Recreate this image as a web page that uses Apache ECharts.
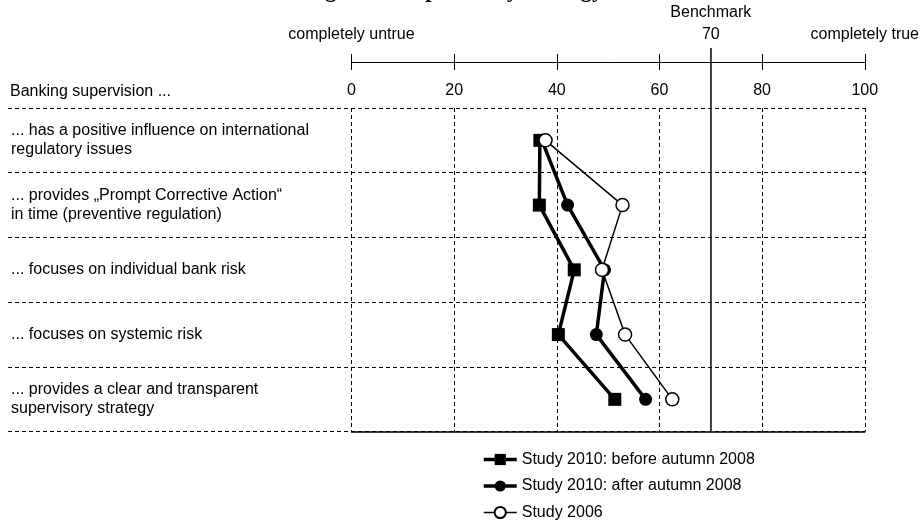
<!DOCTYPE html>
<html>
<head>
<meta charset="utf-8">
<script src="https://cdn.jsdelivr.net/npm/echarts@6/dist/echarts.min.js"></script>
<style>
html,body{margin:0;padding:0;background:#fff;}
#chart{width:922px;height:522px;}
</style>
</head>
<body>
<div id="chart"></div>
<script>
// ---- data ----
const headerLabel = 'Banking supervision ...';
const categories = [
  '... has a positive influence on international\nregulatory issues',
  '... provides \u201EPrompt Corrective Action\u201C\nin time (preventive regulation)',
  '... focuses on individual bank risk',
  '... focuses on systemic risk',
  '... provides a clear and transparent\nsupervisory strategy'
];
const seriesNames = ['Study 2010: before autumn 2008', 'Study 2010: after autumn 2008', 'Study 2006'];
const before2010 = [36.7, 36.6, 43.4, 40.3, 51.3];
const after2010  = [37.1, 42.1, 49.3, 47.7, 57.3];
const study2006  = [37.8, 52.8, 48.8, 53.3, 62.5];
const benchmark = 70;
const scaleTicks = [0, 20, 40, 60, 80, 100];
const scaleEndLabels = {0: 'completely untrue', 100: 'completely true'};
const titleText = 'Rating of the supervisory strategy';

// ---- chart ----
const font = 'Liberation Sans';
const chart = echarts.init(document.getElementById('chart'), null, {renderer: 'canvas'});
const dashed = {color: '#000', width: 1, type: [4, 3]};
const topLabels = Object.assign({}, scaleEndLabels);
topLabels[benchmark] = 'Benchmark\n' + benchmark;
const lineWidths = [3.5, 3.5, 1.5];

const option = {
  animation: false,
  backgroundColor: '#fff',
  textStyle: {fontFamily: font},
  graphic: [
    {type: 'text', left: 10, top: 84, style: {text: headerLabel, font: '16px ' + font, fill: '#000'}},
    {type: 'text', x: 270, y: -9, style: {text: titleText, font: 'bold 23px "Liberation Serif"', fill: '#000', verticalAlign: 'middle'}}
  ],
  grid: [
    {left: 8, right: 57, top: 108, bottom: 90.3},
    {left: 351.5, right: 57, top: 108, bottom: 90.3},
    {left: 351.5, right: 57, top: 48, bottom: 90.3}
  ],
  xAxis: [
    {gridIndex: 0, type: 'value', min: 0, max: 1, show: false},
    {gridIndex: 1, type: 'value', position: 'top', offset: 46, min: scaleTicks[0], max: scaleTicks[scaleTicks.length - 1], interval: 20,
      axisLine: {show: true, lineStyle: {color: '#000', width: 1}},
      axisTick: {show: true, length: 8, lineStyle: {color: '#000', width: 1}},
      axisLabel: {show: false},
      splitLine: {show: true, showMinLine: true, showMaxLine: true, lineStyle: dashed}},
    {gridIndex: 1, type: 'value', position: 'top', offset: 46, min: scaleTicks[0], max: scaleTicks[scaleTicks.length - 1], interval: 20,
      axisLine: {show: false},
      axisTick: {show: true, inside: true, length: 8, lineStyle: {color: '#000', width: 1}},
      axisLabel: {show: true, inside: true, margin: 21, color: '#000', fontSize: 16, fontFamily: font,
        formatter: v => scaleTicks.includes(v) ? String(v) : ''},
      splitLine: {show: false}},
    {gridIndex: 1, type: 'value', position: 'top', offset: 46, min: 0, max: 100, interval: 10,
      axisLine: {show: false}, axisTick: {show: false}, splitLine: {show: false},
      axisLabel: {show: true, margin: 16, color: '#000', fontSize: 16, fontFamily: font, lineHeight: 22,
        showMinLabel: true, showMaxLabel: true,
        formatter: v => topLabels[v] || ''}},
    {gridIndex: 1, type: 'value', position: 'bottom', min: 0, max: 100,
      axisLine: {show: true, lineStyle: {color: '#000', width: 1.5}},
      axisTick: {show: false}, axisLabel: {show: false}, splitLine: {show: false}},
    {gridIndex: 2, type: 'value', min: 0, max: 100, show: false}
  ],
  yAxis: [
    {gridIndex: 0, type: 'category', inverse: true, data: categories,
      axisLine: {show: false}, axisTick: {show: false},
      axisLabel: {show: true, inside: true, margin: 3, color: '#000', fontSize: 16, fontFamily: font, lineHeight: 19},
      splitLine: {show: true, lineStyle: dashed}},
    {gridIndex: 1, type: 'category', inverse: true, data: categories, show: false},
    {gridIndex: 2, type: 'value', min: 0, max: 1, show: false}
  ],
  legend: {
    data: seriesNames.map((n, i) => ({name: n, lineStyle: {width: lineWidths[i]}})),
    orient: 'vertical', left: 482, top: 450, padding: 0,
    itemWidth: 33, itemHeight: 14, itemGap: 7.5,
    textStyle: {color: '#000', fontSize: 16, fontFamily: font, lineHeight: 19}
  },
  series: [
    {name: seriesNames[0], type: 'line', xAxisIndex: 2, yAxisIndex: 1,
      data: before2010.map((v, i) => [v, i]),
      symbol: 'rect', symbolSize: 13,
      lineStyle: {color: '#000', width: lineWidths[0]}, itemStyle: {color: '#000'}, z: 3},
    {name: seriesNames[1], type: 'line', xAxisIndex: 2, yAxisIndex: 1,
      data: after2010.map((v, i) => [v, i]),
      symbol: 'circle', symbolSize: 13,
      lineStyle: {color: '#000', width: lineWidths[1]}, itemStyle: {color: '#000'}, z: 4},
    {name: seriesNames[2], type: 'line', xAxisIndex: 2, yAxisIndex: 1,
      data: study2006.map((v, i) => [v, i]),
      symbol: 'circle', symbolSize: 13,
      lineStyle: {color: '#000', width: lineWidths[2]}, itemStyle: {color: '#fff', borderColor: '#000', borderWidth: 1.5}, z: 5},
    {name: 'Benchmark', type: 'line', xAxisIndex: 5, yAxisIndex: 2,
      data: [[benchmark, 0], [benchmark, 1]], symbol: 'none', silent: true,
      lineStyle: {color: '#000', width: 1.5}, z: 2}
  ]
};
chart.setOption(option);
</script>
</body>
</html>
